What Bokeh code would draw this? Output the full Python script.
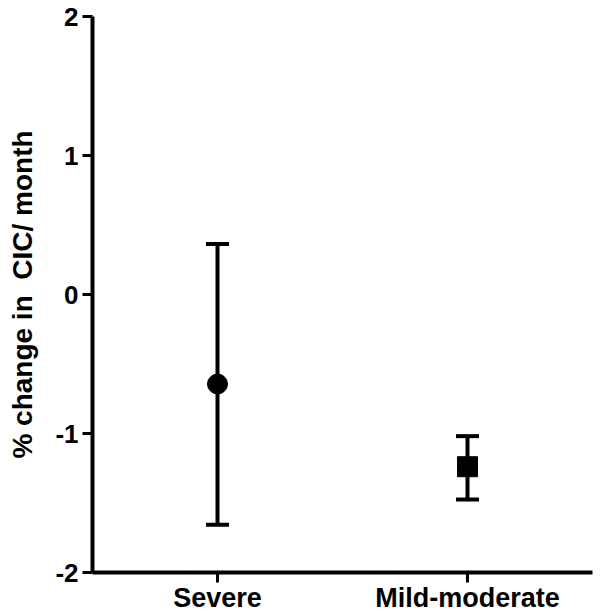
from bokeh.plotting import figure
from bokeh.models import FactorRange, Range1d, FixedTicker, Whisker, ColumnDataSource, TeeHead
from bokeh.embed import file_html
from bokeh.resources import INLINE

categories = ["Severe", "Mild-moderate"]
means = [-0.644, -1.239]
upper = [0.364, -1.019]
lower = [-1.657, -1.475]
markers = ["circle", "square"]
y_ticks = [-2, -1, 0, 1, 2]
y_tick_labels = ["-2", "-1", "0", "1", "2"]
y_label = "% change in\u00a0 CIC/ month"

FONT = "Liberation Sans"

p = figure(width=600, height=615, x_range=FactorRange(*categories, range_padding=0),
           y_range=Range1d(-2, 2), output_backend="svg", toolbar_location=None,
           min_border_left=92, min_border_right=8, min_border_top=16, min_border_bottom=43)
p.outline_line_color = None
p.xgrid.visible = False
p.ygrid.visible = False

src = ColumnDataSource(dict(x=categories, y=means, upper=upper, lower=lower, marker=markers))

w = Whisker(base="x", upper="upper", lower="lower", source=src, line_width=4, line_color="black",
            upper_head=TeeHead(size=23, line_width=4, line_color="black"),
            lower_head=TeeHead(size=23, line_width=4, line_color="black"))
p.add_layout(w)

p.scatter(x="x", y="y", marker="marker", size=20, color="black", source=src)

for ax in (p.xaxis[0], p.yaxis[0]):
    ax.axis_line_width = 4
    ax.axis_line_color = "black"
    ax.major_tick_line_width = 3
    ax.major_tick_line_color = "black"
    ax.major_tick_out = 10
    ax.major_tick_in = 0
    ax.minor_tick_line_color = None
    ax.major_label_text_font = FONT
    ax.major_label_text_font_style = "bold"
    ax.major_label_text_font_size = "26px"
    ax.major_label_text_color = "black"

p.xaxis.major_tick_out = 10
p.xaxis.major_label_text_font_size = "27px"
p.yaxis.ticker = FixedTicker(ticks=y_ticks)
p.yaxis.major_label_overrides = {t: l for t, l in zip(y_ticks, y_tick_labels)}
p.yaxis.major_label_standoff = 4
p.xaxis.major_label_standoff = 0
p.yaxis.axis_label = y_label
p.yaxis.axis_label_text_font = FONT
p.yaxis.axis_label_text_font_style = "bold"
p.yaxis.axis_label_text_font_size = "28px"
p.yaxis.axis_label_text_color = "black"
p.yaxis.axis_label_standoff = 14

open("out.html", "w").write(file_html(p, INLINE))
